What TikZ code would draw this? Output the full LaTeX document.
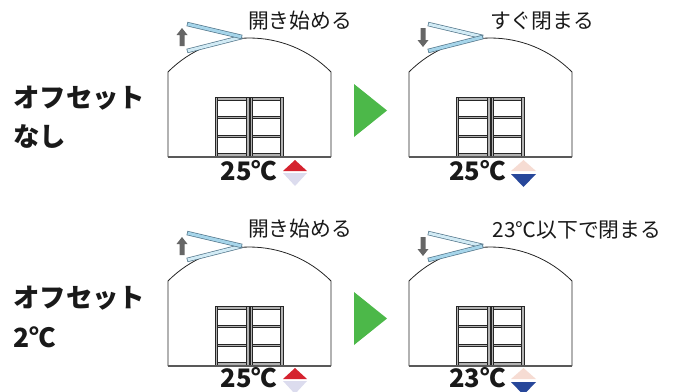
\documentclass[tikz,border=0pt]{standalone}
\usepackage{fontspec}
\setmainfont{Noto Sans CJK JP}
\definecolor{leaf}{HTML}{4CB849}
\definecolor{warm}{HTML}{D5232F}
\definecolor{warmpale}{HTML}{F6DCD3}
\definecolor{cool}{HTML}{27479A}
\definecolor{coolpale}{HTML}{DCDCEE}
\definecolor{glass}{HTML}{A6D5EA}
\definecolor{glasspale}{HTML}{D2EBF5}
\definecolor{glassedge}{HTML}{55788C}
\definecolor{pointer}{HTML}{666666}
\begin{document}
\begin{tikzpicture}[x=1pt,y=-1pt,
  wall/.style={draw=black!85, line width=0.8pt},
  ground/.style={draw=black!65, line width=1.2pt},
  rail/.style={fill=black!30, draw=black!85, line width=0.45pt},
  baredge/.style={draw=glassedge, line width=4.4pt},
  barfill/.style={line width=3pt, shorten <=0.7pt, shorten >=0.7pt},
  note/.style={inner sep=0pt, font=\fontsize{20.8}{23}\selectfont, text=black!90},
  temp/.style={inner sep=0pt, anchor=base, font=\fontsize{25.5}{27}\selectfont\bfseries, text=black!90},
  rowlabel/.style={inner sep=0pt, anchor=west, font=\fontsize{26.4}{28}\selectfont\bfseries, text=black!90},
  house/.pic={
    \draw[wall] (168,157) -- (168,72) .. controls (212.9,26.7) and (286.1,26.7) .. (331,72) -- (331,157);
    \foreach \a/\b in {215/249, 250/283}{
      \filldraw[rail] (\a,97) rectangle (\b,100);
      \filldraw[rail] (\a,116) rectangle (\b,118.5);
      \filldraw[rail] (\a,135) rectangle (\b,137.5);
      \filldraw[rail] (\a,153) rectangle (\b,156);
      \filldraw[rail] (\a,97) rectangle (\a+2.5,157);
      \filldraw[rail] (\b-2.5,97) rectangle (\b,157);
    }
    \draw[ground] (168,157) -- (331,157);
  },
  opening/.pic={
    \draw[baredge] (187,51) -- (242,37);
    \draw[barfill, glasspale] (187,51) -- (242,37);
    \draw[baredge] (187,24) -- (242,37);
    \draw[barfill, glass] (187,24) -- (242,37);
    \fill[pointer] (182,28) -- (187.5,35) -- (184.5,35) -- (184.5,46) -- (179.5,46) -- (179.5,35) -- (176.5,35) -- cycle;
  },
  closing/.pic={
    \draw[baredge] (187,24) -- (242,37);
    \draw[barfill, glasspale] (187,24) -- (242,37);
    \draw[baredge] (187,51) -- (242,37);
    \draw[barfill, glass] (187,51) -- (242,37);
    \fill[pointer] (182,47) -- (187.5,40) -- (184.5,40) -- (184.5,28) -- (179.5,28) -- (179.5,40) -- (176.5,40) -- cycle;
  },
  rising/.pic={
    \fill[warm] (-12,-1) -- (12,-1) -- (0,-12) -- cycle;
    \fill[coolpale] (-12,1) -- (12,1) -- (0,14) -- cycle;
  },
  falling/.pic={
    \fill[warmpale] (-12.5,-1) -- (12.5,-1) -- (0,-12) -- cycle;
    \fill[cool] (-12.5,2) -- (12.5,2) -- (0,15) -- cycle;
  }
]
\useasboundingbox (0,0) rectangle (680,391);

% greenhouses
\pic at (0,0) {house};
\pic at (241,0) {house};
\pic at (0,209) {house};
\pic at (241,209) {house};

% roof vents
\pic at (0,0) {opening};
\pic at (241,0) {closing};
\pic at (0,209) {opening};
\pic at (241,209) {closing};

% green step arrows
\fill[leaf] (354,84) -- (387,110.5) -- (354,137) -- cycle;
\fill[leaf] (354,292) -- (387,318.5) -- (354,345) -- cycle;

% vent notes
\node[note] (n1) at (300,21) {開き始める};
\node[note] (n2) at (542,21) {すぐ閉まる};
\node[note] (n3) at (300,229) {開き始める};
\node[note] (n4) at (577,230) {23℃以下で閉まる};

% temperatures
\node[temp] (t1) at (249,180) {25℃};
\node[temp] (t2) at (477.5,180) {25℃};
\node[temp] (t3) at (249,387.5) {25℃};
\node[temp] (t4) at (477.5,387.5) {23℃};
\pic at (295,172) {rising};
\pic at (523.5,172) {falling};
\pic at (295,380) {rising};
\pic at (523.5,380) {falling};

% row labels
\node[rowlabel] (r1) at (13,98) {オフセット};
\node[rowlabel] (r2) at (13,137) {なし};
\node[rowlabel] (r3) at (13,298) {オフセット};
\node[rowlabel] (r4) at (13,337) {2℃};
\end{tikzpicture}
\end{document}
